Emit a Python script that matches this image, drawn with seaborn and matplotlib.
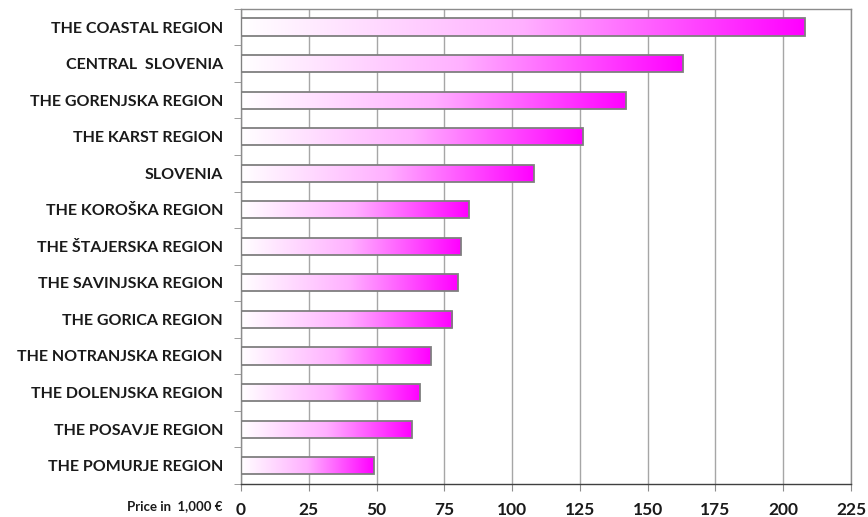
import numpy as np
import pandas as pd
import seaborn as sns
import matplotlib.pyplot as plt
from matplotlib.colors import LinearSegmentedColormap
from matplotlib.ticker import MultipleLocator, FixedLocator

regions = ["THE COASTAL REGION", "CENTRAL  SLOVENIA", "THE GORENJSKA REGION",
           "THE KARST REGION", "SLOVENIA", "THE KOROŠKA REGION",
           "THE ŠTAJERSKA REGION", "THE SAVINJSKA REGION", "THE GORICA REGION",
           "THE NOTRANJSKA REGION", "THE DOLENJSKA REGION", "THE POSAVJE REGION",
           "THE POMURJE REGION"]
price = [208, 163, 142, 126, 108, 84, 81, 80, 78, 70, 66, 63, 49]

df = pd.DataFrame({"region": regions, "price": price})

sns.set_style("white")
plt.rcParams["font.family"] = ["Lato", "DejaVu Sans"]

fig = plt.figure(figsize=(8.68, 5.17), dpi=100)
ax = fig.add_axes([0.2776, 0.064, 0.7028, 0.919])

sns.barplot(data=df, x="price", y="region", orient="h", color="#ff00ff",
            width=0.47, edgecolor="#7f7f7f", linewidth=1.3, ax=ax, zorder=3)

# gradient fill: white -> magenta inside each bar
cmap = LinearSegmentedColormap.from_list("pinkgrad", ["#ffffff", "#ffb0ff", "#ff00ff"])
grad = np.linspace(0, 1, 256).reshape(1, -1)
for p in list(ax.patches):
    x0, y0 = p.get_x(), p.get_y()
    w, h = p.get_width(), p.get_height()
    p.set_facecolor("none")
    im = ax.imshow(grad, cmap=cmap, aspect="auto", extent=[x0, x0 + w, y0 + h, y0],
                   zorder=2.5, interpolation="bicubic")
    im.set_clip_path(p)

ax.set_xlim(0, 225)
ax.set_ylim(len(regions) - 0.5, -0.5)
ax.xaxis.set_major_locator(MultipleLocator(25))
ax.grid(axis="x", color="#a6a6a6", linewidth=1.0, zorder=0)
ax.set_axisbelow(True)

for s in ax.spines.values():
    s.set_visible(True)
    s.set_color("#8c8c8c")
    s.set_linewidth(1.0)
ax.spines["bottom"].set_color("#404040")

ax.set_xlabel("")
ax.set_ylabel("")
ax.yaxis.set_minor_locator(FixedLocator(np.arange(-0.5, len(regions), 1)))
ax.tick_params(axis="y", which="major", length=0, pad=13, labelsize=11.5)
ax.tick_params(axis="y", which="minor", length=5, color="#8c8c8c", left=True)
ax.tick_params(axis="x", length=5, color="#8c8c8c", labelsize=12.5, pad=8, bottom=True)
for lbl in ax.get_yticklabels() + ax.get_xticklabels():
    lbl.set_fontweight("bold")
    lbl.set_color("#1a1a1a")

fig.text(0.256, 0.013, "Price in  1,000 €", ha="right", va="baseline",
         fontsize=9.5, fontweight="bold", color="#1a1a1a")

fig.savefig("out.png", dpi=100)
